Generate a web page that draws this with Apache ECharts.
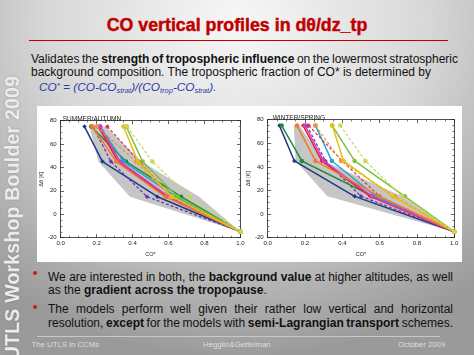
<!DOCTYPE html>
<html><head><meta charset="utf-8">
<script src="https://cdn.jsdelivr.net/npm/echarts/dist/echarts.min.js"></script>
<style>
html,body{margin:0;padding:0;width:474px;height:355px;overflow:hidden}
body{position:relative;font-family:'Liberation Sans',Arial,sans-serif;background:radial-gradient(ellipse 80% 95% at 50% 6%, #f7f7f7 0%, #d8d8d8 50%, #9a9a9a 100%);}
.abs{position:absolute;white-space:nowrap}
#side{left:12px;top:218px;transform:translate(-50%,-50%) rotate(-90deg);color:#ececec;font-weight:bold;font-size:19.5px;text-shadow:0 0 2px rgba(0,0,0,0.25);letter-spacing:0.2px}
#titlewrap{left:0;width:474px;top:14px;text-align:center;line-height:22px}
#title{display:inline-block;color:#c00000;font-weight:bold;font-size:17.8px;-webkit-text-stroke:0.45px #c00000}
#rule{left:29px;top:39.5px;width:419px;height:1.6px;background:#c00000}
.t{font-size:12px;color:#111;line-height:13px}
.b{font-size:12px;color:#111;line-height:14px}
.formula{font-size:11.8px;color:#2e3aa8;font-style:italic;line-height:13px}
.formula sub{font-size:7.5px;vertical-align:-2px}
.formula sup{font-size:8px;vertical-align:3px}
.dot{width:4px;height:4px;border-radius:50%;background:#d01818}
.foot{font-size:7.8px;color:#dedede;line-height:10px}
#fline{left:37px;top:336px;width:403px;height:1px;background:#c8c8c8}
#chart{left:37px;top:106px;width:425px;height:156px;background:#fff}
</style></head>
<body>
<div class="abs" id="side">UTLS Workshop Boulder 2009</div>
<div class="abs" id="titlewrap"><span id="title">CO vertical profiles in dθ/dz_tp</span></div>
<div class="abs" id="rule"></div>
<div class="abs t fit" data-w="427" style="left:31px;top:52.5px">Validates the <b>strength of tropospheric influence</b> on the lowermost stratospheric</div>
<div class="abs t" style="left:31px;top:65.5px">background composition. The tropospheric fraction of CO* is determined by</div>
<div class="abs formula" style="left:39px;top:78.5px">CO<sup>*</sup> = (CO-CO<sub>strat</sub>)/(CO<sub>trop</sub>-CO<sub>strat</sub>).</div>
<div class="abs" id="chart"></div>
<div class="abs dot" style="left:33px;top:271px"></div>
<div class="abs b fit" data-w="405" style="left:48px;top:269.5px">We are interested in both, the <b>background value</b> at higher altitudes, as well</div>
<div class="abs b" style="left:48px;top:283px">as the <b>gradient across the tropopause</b>.</div>
<div class="abs dot" style="left:33px;top:305px"></div>
<div class="abs b fit" data-w="405" style="left:48px;top:302px">The models perform well given their rather low vertical and horizontal</div>
<div class="abs b fit" data-w="405" style="left:48px;top:316px">resolution, <b>except</b> for the models with <b>semi-Lagrangian transport</b> schemes.</div>
<div class="abs" id="fline"></div>
<div class="abs foot" style="left:31.5px;top:339.5px">The UTLS in CCMs</div>
<div class="abs foot" style="left:203px;top:339.5px">Hegglin&amp;Gettelman</div>
<div class="abs foot" style="left:398px;top:339.5px">October 2009</div>
<script>
// fit justified lines to their width by word spacing
document.querySelectorAll('.fit').forEach(el => {
  const target = parseFloat(el.dataset.w);
  const natural = el.getBoundingClientRect().width;
  const spaces = (el.textContent.match(/ /g) || []).length;
  if (spaces > 0) el.style.wordSpacing = ((target - natural) / spaces) + 'px';
});

// Δθ levels (K) of the profile points
const levels = [75, 45, 15, -15];
const panelTitles = ['SUMMER/AUTUMN', 'WINTER/SPRING'];
const xTickValues = [0.0, 0.2, 0.4, 0.6, 0.8, 1.0];
const yTickValues = [-20, 0, 20, 40, 60, 80];
// CO* per model at each level
const summerNavy       = [0.133, 0.233, 0.538, 1.0];
const summerVioletDash = [0.18, 0.28, 0.48, 1.0];
const summerGreen      = [0.17, 0.364, 0.67, 1.0];
const summerCyan       = [0.22, 0.35, 0.64, 1.0];
const summerRed        = [0.21, 0.32, 0.59, 1.0];
const summerRedDash    = [0.26, 0.437, 0.62, 1.0];
const summerMagenta    = [0.22, 0.33, 0.60, 1.0];
const summerOrange     = [0.175, 0.31, 0.58, 1.0];
const summerOrangeDash = [0.20, 0.42, 0.61, 1.0];
const summerLightGreen = [0.365, 0.456, 0.65, 1.0];
const summerYellow     = [0.35, 0.43, 0.62, 1.0];
const summerLimeDash   = [0.37, 0.51, 0.716, 1.0];
const winterNavy       = [0.063, 0.143, 0.466, 1.0];
const winterVioletDash = [0.21, 0.31, 0.50, 1.0];
const winterGreen      = [0.075, 0.183, 0.565, 1.0];
const winterCyan       = [0.256, 0.344, 0.58, 1.0];
const winterRed        = [0.19, 0.29, 0.55, 1.0];
const winterRedDash    = [0.22, 0.40, 0.60, 1.0];
const winterMagenta    = [0.20, 0.30, 0.56, 1.0];
const winterOrange     = [0.157, 0.256, 0.60, 1.0];
const winterOrangeDash = [0.256, 0.394, 0.68, 1.0];
const winterLightGreen = [0.346, 0.466, 0.735, 1.0];
const winterYellow     = [0.346, 0.407, 0.67, 1.0];
const winterLimeDash   = [0.389, 0.524, 0.72, 1.0];
// observation envelope (grey range)
const summerEnvLow  = [0.16, 0.21, 0.385, 1.0];
const summerEnvHigh = [0.25, 0.45, 0.77, 1.0];
const winterEnvLow  = [0.14, 0.15, 0.32, 1.0];
const winterEnvHigh = [0.17, 0.30, 0.72, 1.0];

const summerModels = [summerNavy, summerVioletDash, summerGreen, summerCyan, summerRed, summerRedDash, summerMagenta, summerOrange, summerOrangeDash, summerLightGreen, summerYellow, summerLimeDash];
const winterModels = [winterNavy, winterVioletDash, winterGreen, winterCyan, winterRed, winterRedDash, winterMagenta, winterOrange, winterOrangeDash, winterLightGreen, winterYellow, winterLimeDash];

// styles (not data)
const styles = [
  {c:'#1d3a8a', d:false, s:'diamond'},
  {c:'#6a35a8', d:true,  s:'diamond'},
  {c:'#238a3c', d:false, s:'circle'},
  {c:'#22a6cc', d:false, s:'circle'},
  {c:'#e5202a', d:false, s:'diamond'},
  {c:'#d8344c', d:true,  s:'diamond'},
  {c:'#cf3fbf', d:false, s:'circle'},
  {c:'#f27a2e', d:false, s:'circle'},
  {c:'#ef9340', d:true,  s:'circle'},
  {c:'#7fc042', d:false, s:'circle'},
  {c:'#e6c012', d:false, s:'circle'},
  {c:'#c6d85c', d:true,  s:'circle'}
];

const chart = echarts.init(document.getElementById('chart'), null, {renderer:'canvas'});
const grids = [
  {left:20.7, top:14.7, width:182.8, height:124.6},
  {left:230.7, top:13.7, width:186.5, height:125.6}
];
const lbl = {fontSize:6, color:'#222', fontFamily:'Liberation Sans'};
const xAxes = [], yAxes = [], series = [];
grids.forEach((g, k) => {
  const base = {type:'value', gridIndex:k, min:xTickValues[0], max:xTickValues[xTickValues.length-1], interval:0.2,
    splitLine:{show:false}, axisLine:{show:true, onZero:false, lineStyle:{color:'#222', width:0.8}},
    axisTick:{show:true, inside:true, length:3.5, lineStyle:{color:'#222', width:0.7}},
    minorTick:{show:true, splitNumber:4, length:1.8, lineStyle:{color:'#222', width:0.6}}};
  xAxes.push(Object.assign({}, base, {position:'bottom', name:'CO*', nameLocation:'middle', nameGap:10,
    nameTextStyle:Object.assign({}, lbl, {fontSize:5.5}),
    axisLabel:Object.assign({}, lbl, {margin:2.5, formatter:v => v.toFixed(1)})}));
  xAxes.push(Object.assign({}, base, {position:'top', axisLabel:{show:false}}));
  const ybase = {type:'value', gridIndex:k, min:yTickValues[0], max:yTickValues[yTickValues.length-1], interval:20,
    splitLine:{show:false}, axisLine:{show:true, onZero:false, lineStyle:{color:'#222', width:0.8}},
    axisTick:{show:true, inside:true, length:3.5, lineStyle:{color:'#222', width:0.7}},
    minorTick:{show:true, splitNumber:4, length:1.8, lineStyle:{color:'#222', width:0.6}}};
  yAxes.push(Object.assign({}, ybase, {position:'left', name:'Δθ [K]', nameLocation:'middle', nameGap:k?14:15.5, nameRotate:90,
    nameTextStyle:Object.assign({}, lbl, {fontSize:5.5}),
    axisLabel:Object.assign({}, lbl, {margin:4})}));
  yAxes.push(Object.assign({}, ybase, {position:'right', axisLabel:{show:false}}));

  const low = k ? winterEnvLow : summerEnvLow;
  const high = k ? winterEnvHigh : summerEnvHigh;
  series.push({type:'custom', xAxisIndex:2*k, yAxisIndex:2*k, silent:true, z:1,
    data:[[0.5, 30]],
    renderItem:(p, api) => {
      const pts = low.map((v,i) => api.coord([v, levels[i]]))
        .concat(high.map((v,i) => api.coord([v, levels[i]])).reverse());
      return {type:'polygon', shape:{points:pts}, style:{fill:'#c6c6c6'}};
    }});
  const models = k ? winterModels : summerModels;
  models.forEach((vals, m) => {
    const st = styles[m];
    series.push({type:'line', xAxisIndex:2*k, yAxisIndex:2*k, z:2+m, silent:true,
      data: vals.map((v,i) => [v, levels[i]]),
      symbol:st.s, symbolSize:4.5, showSymbol:true, clip:false,
      itemStyle:{color:st.c},
      lineStyle:{color:st.c, width:st.d?1.2:1.5, type:st.d?[3,2]:'solid'}});
  });
});
chart.setOption({
  animation:false,
  title: panelTitles.map((t,k) => ({text:t, left:grids[k].left, top:k?3.5:4.5,
    textStyle:{fontSize:6.5, color:'#222', fontWeight:'normal', fontFamily:'Liberation Sans'}})),
  grid: grids,
  xAxis: xAxes,
  yAxis: yAxes,
  series: series
});
</script>
</body></html>
